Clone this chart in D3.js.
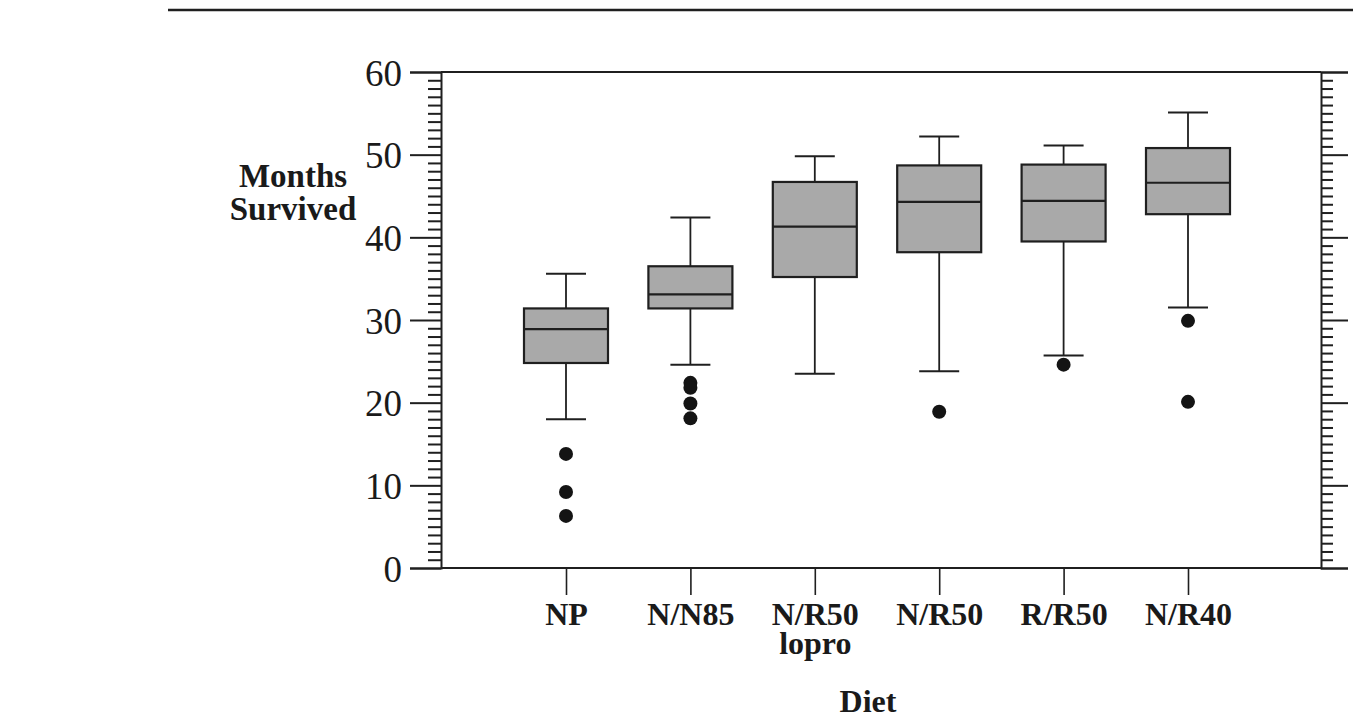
<!DOCTYPE html>
<html>
<head>
<meta charset="utf-8">
<script src="https://cdn.jsdelivr.net/npm/d3@7"></script>
<style>
  html, body { margin: 0; padding: 0; background: #fff; }
  svg { display: block; }
  text { font-family: "Liberation Serif", "DejaVu Serif", serif; fill: #1a1a1a; }
</style>
</head>
<body>
<div id="chart"></div>
<script>
// diet groups (two share the same label, so boxes are keyed by index)
const dietLabels = ['NP', 'N/N85', 'N/R50', 'N/R50', 'R/R50', 'N/R40']
const dietSubLabels = ['', '', 'lopro', '', '', '']

// box plot summaries, months survived
const whiskerLow  = [18.0, 24.6, 23.5, 23.8, 25.7, 31.5]
const quart1      = [24.8, 31.4, 35.2, 38.2, 39.5, 42.8]
const medians     = [28.9, 33.1, 41.3, 44.3, 44.4, 46.6]
const quart3      = [31.4, 36.5, 46.7, 48.7, 48.8, 50.8]
const whiskerHigh = [35.6, 42.4, 49.8, 52.2, 51.1, 55.1]
const outliers = [
  [13.8, 9.2, 6.3],
  [22.4, 21.8, 19.9, 18.1],
  [],
  [18.9],
  [24.6],
  [29.9, 20.1]
]

const yMajorTicks = [0, 10, 20, 30, 40, 50, 60]

const drawBoxPlot = () => {
  const svgWidth = 1353, svgHeight = 719
  const svg = d3.select('#chart')
    .append('svg')
    .attr('width', svgWidth)
    .attr('height', svgHeight)

  const plotLeft = 441, plotRight = 1321, plotTop = 72, plotBottom = 568
  const ink = '#1f1f1f'

  // page rule from the book scan
  svg.append('line')
    .attr('x1', 168).attr('x2', svgWidth)
    .attr('y1', 10).attr('y2', 10)
    .attr('stroke', ink).attr('stroke-width', 2.5)

  const y = d3.scaleLinear()
    .domain([0, 60])
    .range([plotBottom, plotTop])

  const x = d3.scalePoint()
    .domain(d3.range(dietLabels.length))
    .range([566, 1188])

  const minorTicks = d3.range(0, 61, 1).filter(v => v % 10 !== 0)

  // left axis: minor ticks, then major ticks with labels
  svg.append('g')
    .attr('transform', `translate(${plotLeft},0)`)
    .call(d3.axisLeft(y).tickValues(minorTicks).tickSize(13).tickFormat(''))
    .call(g => g.select('.domain').remove())
  const left = svg.append('g')
    .attr('transform', `translate(${plotLeft},0)`)
    .call(d3.axisLeft(y).tickValues(yMajorTicks).tickSize(31).tickPadding(8))
  left.select('.domain').attr('stroke-width', 2)
  left.selectAll('text')
    .attr('font-size', 37)
    .attr('dy', '0.36em')

  // right axis, ticks only
  svg.append('g')
    .attr('transform', `translate(${plotRight},0)`)
    .call(d3.axisRight(y).tickValues(minorTicks).tickSize(12).tickFormat(''))
    .call(g => g.select('.domain').remove())
  svg.append('g')
    .attr('transform', `translate(${plotRight},0)`)
    .call(d3.axisRight(y).tickValues(yMajorTicks).tickSize(27).tickFormat(''))
    .select('.domain').attr('stroke-width', 2)

  svg.selectAll('.tick line').attr('stroke', ink).attr('stroke-width', 2)
  svg.selectAll('.domain').attr('stroke', ink)

  // top and bottom frame
  ;[60, 0].forEach(v => {
    svg.append('line')
      .attr('x1', plotLeft).attr('x2', plotRight)
      .attr('y1', y(v)).attr('y2', y(v))
      .attr('stroke', ink).attr('stroke-width', 2)
  })

  // category axis
  const bottom = svg.append('g')
    .attr('transform', `translate(0,${plotBottom})`)
    .call(d3.axisBottom(x).tickSize(27).tickFormat(i => dietLabels[i]))
  bottom.select('.domain').remove()
  bottom.selectAll('.tick line').attr('stroke', ink).attr('stroke-width', 1.6)
  bottom.selectAll('text')
    .attr('y', 57).attr('dy', 0)
    .attr('font-size', 32)
    .attr('font-weight', 'bold')
  bottom.selectAll('.tick')
    .filter(i => dietSubLabels[i] !== '')
    .append('text')
    .attr('y', 86)
    .attr('text-anchor', 'middle')
    .attr('font-size', 32)
    .attr('font-weight', 'bold')
    .attr('fill', '#1a1a1a')
    .text(i => dietSubLabels[i])

  // axis titles
  svg.append('text')
    .attr('x', 868).attr('y', 712)
    .attr('text-anchor', 'middle')
    .attr('font-size', 32).attr('font-weight', 'bold')
    .text('Diet')
  const yTitle = svg.append('text')
    .attr('text-anchor', 'middle')
    .attr('font-size', 33).attr('font-weight', 'bold')
  yTitle.append('tspan').attr('x', 293).attr('y', 187).text('Months')
  yTitle.append('tspan').attr('x', 293).attr('y', 220).text('Survived')

  // boxes
  const boxWidth = 84, capWidth = 40
  const boxes = svg.append('g')
    .selectAll('g')
    .data(d3.range(dietLabels.length))
    .join('g')
    .attr('transform', i => `translate(${x(i)},0)`)

  boxes.append('line')
    .attr('y1', i => y(whiskerLow[i])).attr('y2', i => y(whiskerHigh[i]))
    .attr('stroke', ink).attr('stroke-width', 1.8)
  ;[whiskerLow, whiskerHigh].forEach(arr => {
    boxes.append('line')
      .attr('x1', -capWidth / 2).attr('x2', capWidth / 2)
      .attr('y1', i => y(arr[i])).attr('y2', i => y(arr[i]))
      .attr('stroke', ink).attr('stroke-width', 2)
  })
  boxes.append('rect')
    .attr('x', -boxWidth / 2)
    .attr('width', boxWidth)
    .attr('y', i => y(quart3[i]))
    .attr('height', i => y(quart1[i]) - y(quart3[i]))
    .attr('fill', '#a9a9a9')
    .attr('stroke', ink).attr('stroke-width', 2.2)
  boxes.append('line')
    .attr('x1', -boxWidth / 2).attr('x2', boxWidth / 2)
    .attr('y1', i => y(medians[i])).attr('y2', i => y(medians[i]))
    .attr('stroke', ink).attr('stroke-width', 2.2)

  boxes.selectAll('circle')
    .data(i => outliers[i])
    .join('circle')
    .attr('r', 7)
    .attr('cy', d => y(d))
    .attr('fill', '#141414')
}

drawBoxPlot()
</script>
</body>
</html>
